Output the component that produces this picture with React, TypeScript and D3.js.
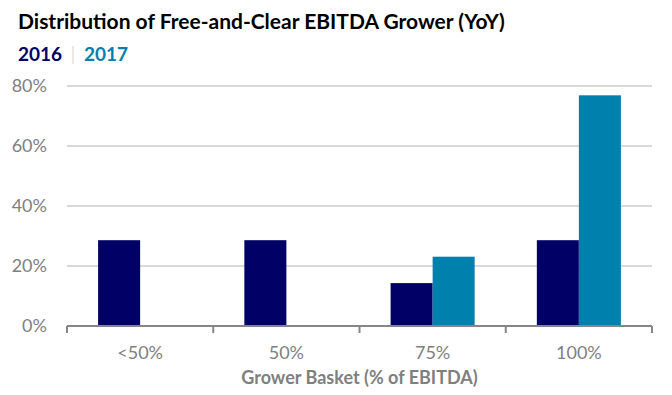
import { useMemo } from "react";
import * as d3 from "d3";

const categories = ["<50%", "50%", "75%", "100%"];
const seriesKeys = ["2016", "2017"];
const values2016 = [28.6, 28.6, 14.3, 28.6];
const values2017 = [0, 0, 23.1, 76.9];
const yTicks = [0, 20, 40, 60, 80];
const colors = ["#000066", "#0080AD"];

const WIDTH = 672;
const HEIGHT = 395;
const MARGIN = { top: 86, right: 20, bottom: 69, left: 67 };
const FONT = "Lato, 'Open Sans', sans-serif";

const App = () => {
  const boundsWidth = WIDTH - MARGIN.left - MARGIN.right;
  const boundsHeight = HEIGHT - MARGIN.top - MARGIN.bottom;

  const data = categories.map((c, i) => ({ cat: c, "2016": values2016[i], "2017": values2017[i] }));

  const xScale = useMemo(
    () => d3.scaleBand().domain(categories).range([0, boundsWidth]).padding(0),
    [boundsWidth]
  );
  const x1 = useMemo(
    () => d3.scaleBand().domain(seriesKeys).range([0, xScale.bandwidth()]).paddingInner(0).paddingOuter(0.74),
    [xScale]
  );
  const yScale = useMemo(
    () => d3.scaleLinear().domain([0, 80]).range([boundsHeight, 0]),
    [boundsHeight]
  );

  const tickXs = categories.map((c) => xScale(c) as number).concat([boundsWidth]);

  return (
    <svg width={WIDTH} height={HEIGHT} style={{ position: "absolute", left: 0, top: 0, fontFamily: FONT }}>
      <text x={18} y={29} fontSize={21} fontWeight="bold" fill="#000">
        Distribution of Free-and-Clear EBITDA Grower (YoY)
      </text>
      <text x={18} y={61} fontSize={19} fontWeight="bold" fill={colors[0]}>2016</text>
      <line x1={73} x2={73} y1={46} y2={64} stroke="#e6e0d6" strokeWidth={1.5} />
      <text x={84} y={61} fontSize={19} fontWeight="bold" fill={colors[1]}>2017</text>

      <g transform={`translate(${MARGIN.left},${MARGIN.top})`}>
        {yTicks.filter((t) => t > 0).map((t) => (
          <line key={t} x1={0} x2={boundsWidth} y1={yScale(t)} y2={yScale(t)} stroke="#d9d9d9" strokeWidth={2} />
        ))}
        {yTicks.map((t) => (
          <text key={t} x={-20} y={yScale(t)} dy="0.35em" textAnchor="end" fontSize={18} fill="#7f7f7f">
            {t}%
          </text>
        ))}
        {data.map((d) => (
          <g key={d.cat} transform={`translate(${xScale(d.cat)},0)`}>
            {seriesKeys.map((k, i) => {
              const v = (d as any)[k] as number;
              if (!v) return null;
              return (
                <rect
                  key={k}
                  x={x1(k)}
                  y={yScale(v)}
                  width={x1.bandwidth()}
                  height={yScale(0) - yScale(v)}
                  fill={colors[i]}
                />
              );
            })}
          </g>
        ))}
        <line x1={0} x2={boundsWidth} y1={boundsHeight} y2={boundsHeight} stroke="#868686" strokeWidth={2} />
        {tickXs.map((x, i) => (
          <line key={i} x1={x} x2={x} y1={boundsHeight} y2={boundsHeight + 7} stroke="#868686" strokeWidth={2} />
        ))}
        {categories.map((c) => (
          <text
            key={c}
            x={(xScale(c) as number) + xScale.bandwidth() / 2}
            y={boundsHeight + 33}
            textAnchor="middle"
            fontSize={18}
            fill="#7f7f7f"
          >
            {c}
          </text>
        ))}
        <text x={boundsWidth / 2} y={boundsHeight + 58} textAnchor="middle" fontSize={18} fontWeight="bold" fill="#7f7f7f">
          Grower Basket (% of EBITDA)
        </text>
      </g>
    </svg>
  );
};

export default App;
